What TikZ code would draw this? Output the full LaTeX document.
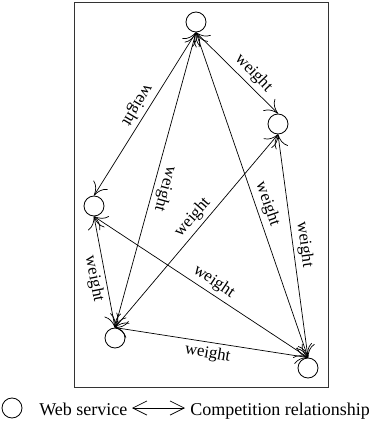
\documentclass[tikz,border=0pt]{standalone}
\usepackage{fontspec}
\setmainfont{Liberation Serif}
\usetikzlibrary{arrows.meta}

\begin{document}
\begin{tikzpicture}[x=0.025cm,y=-0.025cm,
    ws/.style={draw,circle,minimum size=0.5cm,inner sep=0pt,line width=0.6pt},
    rel/.style={{To[length=9pt,width=12pt]}-{To[length=9pt,width=12pt]},line width=0.5pt},
    wlabel/.style={font=\fontsize{12}{14}\selectfont,inner sep=2.5pt},
    keytext/.style={font=\fontsize{12.8}{15}\selectfont,anchor=base west,inner sep=0pt}]
  \useasboundingbox (0,0) rectangle (369,423);
  \draw[black!80,line width=0.6pt] (74,2) rectangle (328,387);

  % web services
  \node[ws] (s1) at (196,22) {};
  \node[ws] (s2) at (278,124) {};
  \node[ws] (s3) at (94,206) {};
  \node[ws] (s4) at (115,338) {};
  \node[ws] (s5) at (308,368) {};

  % competition relationships
  \foreach \a/\b/\p/\r/\s in {
    s1.south/s2.north/0.6/-46/above,
    s1.south/s3.north/0.48/-121/below,
    s1.south/s4.north/0.52/-105.5/above,
    s1.south/s5.north/0.54/-71/above,
    s4.north/s2.south/0.53/49/above,
    s2.south/s5.north/0.5/-82.4/above,
    s3.south/s4.north/0.54/-79/below,
    s3.south/s5.north/0.53/-34/above,
    s4.north/s5.north/0.49/-9.7/below}{
    \draw[rel] (\a) -- node[wlabel,pos=\p,rotate=\r,\s] {weight} (\b);
  }

  % legend
  \node[ws] (key) at (12,408) {};
  \node[keytext] at (39,415) {Web service};
  \coordinate (keyL) at (132,408);
  \coordinate (keyR) at (185,408);
  \draw[{Straight Barb[length=10pt,width=10pt]}-{Straight Barb[length=10pt,width=10pt]},line width=0.55pt] (keyL) -- (keyR);
  \node[keytext] at (190,415) {Competition relationship};
\end{tikzpicture}
\end{document}
